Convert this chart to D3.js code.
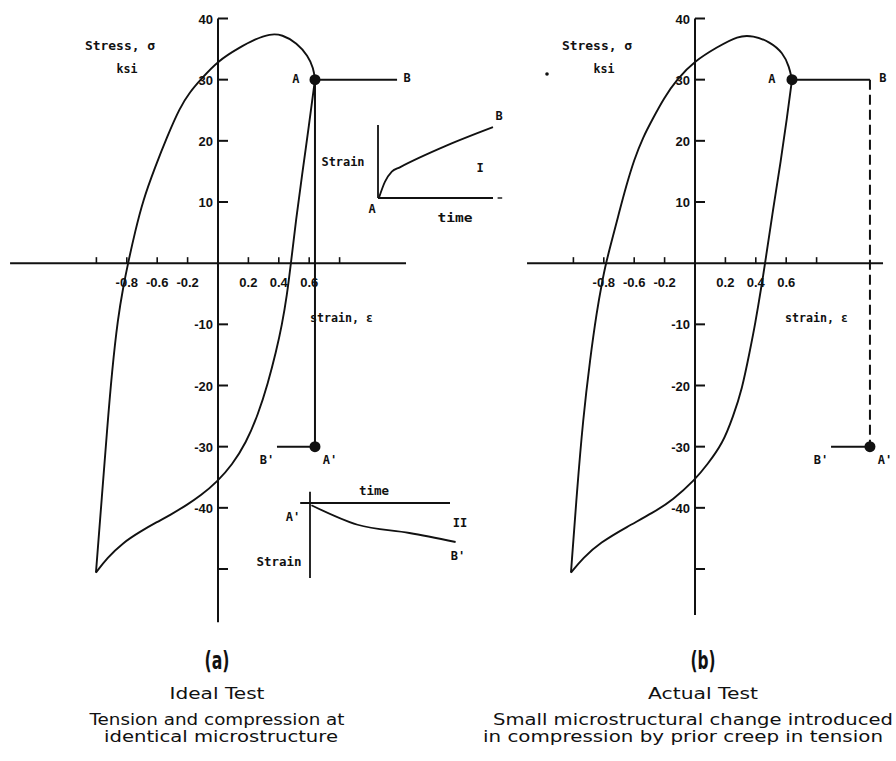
<!DOCTYPE html>
<html>
<head>
<meta charset="utf-8">
<script src="https://cdn.jsdelivr.net/npm/d3@7"></script>
<style>
  html, body { margin: 0; padding: 0; background: #fff; }
  svg { display: block; }
</style>
</head>
<body>
<svg id="fig" width="896" height="761"></svg>
<script>
// ---- axis ticks and labels (stress in ksi, strain in %) ----
const yTicks      = [40, 30, 20, 10, -10, -20, -30, -40, -50];
const yTickLabels = ["40", "30", "20", "10", "-10", "-20", "-30", "-40", ""];
const xTicks      = [-0.8, -0.6, -0.4, -0.2, 0.2, 0.4, 0.6, 0.8];
const xLabelAt    = [-0.6, -0.4, -0.2, 0.2, 0.4, 0.6];
const xLabelText  = ["-0.8", "-0.6", "-0.2", "0.2", "0.4", "0.6"];

// ---- hysteresis loop, ideal test: [strain, stress] ----
const loopIdealUp = [
  [-0.803, -50.6], [-0.763, -37.9], [-0.730, -27.3], [-0.697, -17.5], [-0.658, -8.9],
  [-0.625, -4.1], [-0.592, 0.0], [-0.546, 5.1], [-0.493, 10.3], [-0.414, 15.7],
  [-0.336, 20.6], [-0.250, 25.5], [-0.184, 28.0], [-0.118, 29.9], [0.000, 33.1],
  [0.145, 35.3], [0.243, 36.6], [0.342, 37.5], [0.421, 37.4], [0.520, 36.0],
  [0.592, 33.9], [0.628, 31.9], [0.638, 30.0]
];
const loopIdealDown = [
  [0.638, 30.0], [0.599, 22.6], [0.553, 14.4], [0.513, 7.1], [0.480, 0.0],
  [0.454, -5.2], [0.421, -10.1], [0.382, -14.5], [0.329, -19.6], [0.263, -24.8],
  [0.184, -29.4], [0.092, -33.0], [0.000, -35.6], [-0.118, -38.1], [-0.204, -39.5],
  [-0.316, -41.2], [-0.401, -42.3], [-0.513, -43.9], [-0.625, -45.7], [-0.730, -48.2],
  [-0.803, -50.6]
];

// ---- hysteresis loop, actual test: [strain, stress] ----
const loopActualUp = [
  [-0.816, -50.6], [-0.776, -37.1], [-0.737, -25.6], [-0.691, -15.8], [-0.645, -7.7],
  [-0.612, -3.2], [-0.586, 0.0], [-0.546, 3.8], [-0.500, 8.2], [-0.454, 12.5],
  [-0.401, 16.9], [-0.342, 20.6], [-0.276, 23.7], [-0.204, 27.0], [-0.118, 30.1],
  [0.000, 33.1], [0.145, 35.3], [0.283, 37.2], [0.382, 37.2], [0.493, 36.2],
  [0.579, 34.4], [0.620, 32.1], [0.638, 30.0]
];
const loopActualDown = [
  [0.638, 30.0], [0.605, 23.7], [0.566, 16.9], [0.513, 8.7], [0.461, 0.0],
  [0.441, -3.2], [0.395, -10.1], [0.362, -14.2], [0.309, -20.7], [0.250, -25.1],
  [0.184, -29.4], [0.079, -33.0], [0.000, -35.4], [-0.145, -38.7], [-0.276, -40.8],
  [-0.447, -43.1], [-0.625, -45.7], [-0.737, -48.2], [-0.816, -50.6]
];

// ---- creep hold points [strain, stress] ----
const idealA  = [0.638, 30],  idealB  = [1.178, 30];
const idealA2 = [0.638, -30], idealB2 = [0.388, -30];
const actualA  = [0.638, 30], actualB  = [1.151, 30];
const actualA2 = [1.151, -30], actualB2 = [0.895, -30];

// ---- creep curves in the insets: [time, strain] (relative units) ----
const creepTension     = [[0.01, 0.01], [0.06, 0.22], [0.12, 0.36], [0.19, 0.42], [0.60, 0.72], [1.00, 0.97]];
const creepCompression = [[0.01, -0.03], [0.34, -0.29], [0.71, -0.40], [1.04, -0.52]];

// ---- captions ----
const panelTags = ["(a)", "(b)"];
const captionsA = ["Ideal Test", "Tension and compression at", "identical microstructure"];
const captionsB = ["Actual Test", "Small microstructural change introduced", "in compression by prior creep in tension"];

// ---------------------------------------------------------------
const ink = "#111";
const monoFont = "'DejaVu Sans Mono', 'Liberation Mono', monospace";
const tickFont = "'Liberation Sans', 'DejaVu Sans', sans-serif";
const capFont  = "'DejaVu Sans', 'Liberation Sans', sans-serif";

const svg = d3.select("#fig");
svg.append("rect").attr("width", 896).attr("height", 761).attr("fill", "#fff");

const y = d3.scaleLinear().domain([40, -50]).range([18.5, 569]);
const strainPx = 152;                       // pixels per unit of strain
const xFor = cx => d3.scaleLinear().domain([-1, 1]).range([cx - strainPx, cx + strainPx]);

function label(g, txt, x0, y0, opts = {}) {
  const t = g.append("text")
    .attr("x", x0).attr("y", y0)
    .attr("text-anchor", opts.anchor || "middle")
    .attr("font-family", opts.font || monoFont)
    .attr("font-size", opts.size || 12)
    .attr("font-weight", opts.weight || "bold")
    .attr("fill", ink)
    .text(txt);
  if (opts.len) t.attr("textLength", opts.len).attr("lengthAdjust", "spacingAndGlyphs");
  return t;
}

function drawPanel(cfg) {
  const x = xFor(cfg.cx);
  const g = svg.append("g");
  const line = d3.line().x(d => x(d[0])).y(d => y(d[1]));
  const smooth = d3.line().x(d => x(d[0])).y(d => y(d[1])).curve(d3.curveBasis);

  // axes
  g.append("line").attr("x1", x(cfg.xMin)).attr("x2", x(cfg.xMax))
    .attr("y1", y(0)).attr("y2", y(0)).attr("stroke", ink).attr("stroke-width", 2);
  g.append("line").attr("x1", x(0)).attr("x2", x(0))
    .attr("y1", y(40)).attr("y2", y(cfg.yMin)).attr("stroke", ink).attr("stroke-width", 2);

  g.selectAll(".yt").data(yTicks).join("line")
    .attr("x1", x(0)).attr("x2", x(0) + 10)
    .attr("y1", d => y(d)).attr("y2", d => y(d))
    .attr("stroke", ink).attr("stroke-width", 2);
  g.selectAll(".yl").data(yTicks).join("text")
    .attr("x", x(0) - 5).attr("y", d => y(d) + 5)
    .attr("text-anchor", "end")
    .attr("font-family", tickFont).attr("font-size", 13).attr("font-weight", "bold")
    .attr("fill", ink)
    .text((d, i) => yTickLabels[i]);

  g.selectAll(".xt").data(xTicks).join("line")
    .attr("x1", d => x(d)).attr("x2", d => x(d))
    .attr("y1", y(0)).attr("y2", y(0) - 6)
    .attr("stroke", ink).attr("stroke-width", 1.6);
  g.selectAll(".xl").data(xLabelAt).join("text")
    .attr("x", d => x(d)).attr("y", 287)
    .attr("text-anchor", "middle")
    .attr("font-family", tickFont).attr("font-size", 13).attr("font-weight", "bold")
    .attr("fill", ink)
    .text((d, i) => xLabelText[i]);

  // loop
  [cfg.up, cfg.down].forEach(branch => {
    g.append("path").attr("d", smooth(branch))
      .attr("fill", "none").attr("stroke", ink).attr("stroke-width", 1.9);
  });

  // creep path
  g.append("path").attr("d", line([cfg.A, cfg.B])).attr("fill", "none")
    .attr("stroke", ink).attr("stroke-width", 2);
  g.append("path").attr("d", line(cfg.dropFrom)).attr("fill", "none")
    .attr("stroke", ink).attr("stroke-width", 2)
    .attr("stroke-dasharray", cfg.dashed ? "10,5" : null);
  g.append("path").attr("d", line([cfg.A2, cfg.B2])).attr("fill", "none")
    .attr("stroke", ink).attr("stroke-width", 2);
  [cfg.A, cfg.A2].forEach(p => {
    g.append("circle").attr("cx", x(p[0])).attr("cy", y(p[1])).attr("r", 5.5).attr("fill", ink);
  });

  label(g, "A", x(cfg.A[0]) - cfg.aOff, y(cfg.A[1]) + 3);
  label(g, "B", x(cfg.B[0]) + cfg.bOff, y(cfg.B[1]) + 2);
  label(g, "A'", x(cfg.A2[0]) + 15, y(cfg.A2[1]) + 17);
  label(g, "B'", x(cfg.B2[0]) - 10, y(cfg.B2[1]) + 17);

  // axis titles
  label(g, "Stress, σ", x(0) - 98, y(40) + 31, { len: 70 });
  label(g, "ksi", x(0) - 91, y(40) + 54, { len: 21 });
  label(g, "strain, ε", cfg.strainLabelX, 322, { anchor: "start", len: 63 });

  return { g, x };
}

// ---- panel (a) ----
const pa = drawPanel({
  cx: 218, xMin: -1.368, xMax: 1.237, yMin: -58.7,
  up: loopIdealUp, down: loopIdealDown,
  A: idealA, B: idealB, A2: idealA2, B2: idealB2,
  dropFrom: [idealA, idealA2], dashed: false,
  aOff: 19, bOff: 10, strainLabelX: 310
});

// ---- panel (b) ----
const pb = drawPanel({
  cx: 695, xMin: -1.105, xMax: 1.237, yMin: -57.5,
  up: loopActualUp, down: loopActualDown,
  A: actualA, B: actualB, A2: actualA2, B2: actualB2,
  dropFrom: [actualB, actualA2], dashed: true,
  aOff: 20, bOff: 13, strainLabelX: 785
});
// speck beside the stress label
pb.g.append("circle").attr("cx", 547).attr("cy", 74).attr("r", 1.8).attr("fill", ink);

// ---- inset I: creep in tension ----
{
  const t = d3.scaleLinear().domain([0, 1]).range([378, 493]);
  const s = d3.scaleLinear().domain([0, 1]).range([198, 125]);
  const g = svg.append("g");
  g.append("line").attr("x1", t(0)).attr("x2", t(0)).attr("y1", s(0)).attr("y2", s(1))
    .attr("stroke", ink).attr("stroke-width", 1.8);
  g.append("line").attr("x1", t(0)).attr("x2", t(1)).attr("y1", s(0)).attr("y2", s(0))
    .attr("stroke", ink).attr("stroke-width", 1.8);
  g.append("line").attr("x1", t(1.04)).attr("x2", t(1.08)).attr("y1", s(0)).attr("y2", s(0))
    .attr("stroke", ink).attr("stroke-width", 1.4);
  g.append("path")
    .attr("d", d3.line().x(d => t(d[0])).y(d => s(d[1])).curve(d3.curveMonotoneX)(creepTension))
    .attr("fill", "none").attr("stroke", ink).attr("stroke-width", 1.8);
  label(g, "Strain", 343, 166, { len: 43 });
  label(g, "A", t(0) - 6, s(0) + 15);
  label(g, "time", 455, 222, { len: 35 });
  label(g, "I", 480, 172);
  label(g, "B", 499, 120);
}

// ---- inset II: creep in compression ----
{
  const t = d3.scaleLinear().domain([0, 1]).range([310, 450]);
  const s = d3.scaleLinear().domain([0, -1]).range([503, 578]);
  const g = svg.append("g");
  g.append("line").attr("x1", t(0)).attr("x2", t(0)).attr("y1", s(0.15)).attr("y2", s(-1))
    .attr("stroke", ink).attr("stroke-width", 1.8);
  g.append("line").attr("x1", t(-0.07)).attr("x2", t(1)).attr("y1", s(0)).attr("y2", s(0))
    .attr("stroke", ink).attr("stroke-width", 1.8);
  g.append("path")
    .attr("d", d3.line().x(d => t(d[0])).y(d => s(d[1])).curve(d3.curveMonotoneX)(creepCompression))
    .attr("fill", "none").attr("stroke", ink).attr("stroke-width", 1.8);
  label(g, "time", 374, 495, { len: 30 });
  label(g, "A'", 293, 521);
  label(g, "II", 460, 527);
  label(g, "B'", 458, 560);
  label(g, "Strain", 279, 566, { len: 45 });
}

// ---- captions ----
[[captionsA, 217, [217, 217, 221], [95, 255, 234]],
 [captionsB, 703, [703, 693, 683], [110, 400, 400]]].forEach(([lines, tx, xs, lens], i) => {
  label(svg, panelTags[i], tx, 669, { font: "'DejaVu Sans Condensed', 'DejaVu Sans', sans-serif", size: 24, len: 25 });
  const ys = [699, 725, 742];
  lines.forEach((txt, j) => {
    label(svg, txt, xs[j], ys[j], { font: capFont, size: 15, weight: "normal", len: lens[j] });
  });
});
</script>
</body>
</html>
